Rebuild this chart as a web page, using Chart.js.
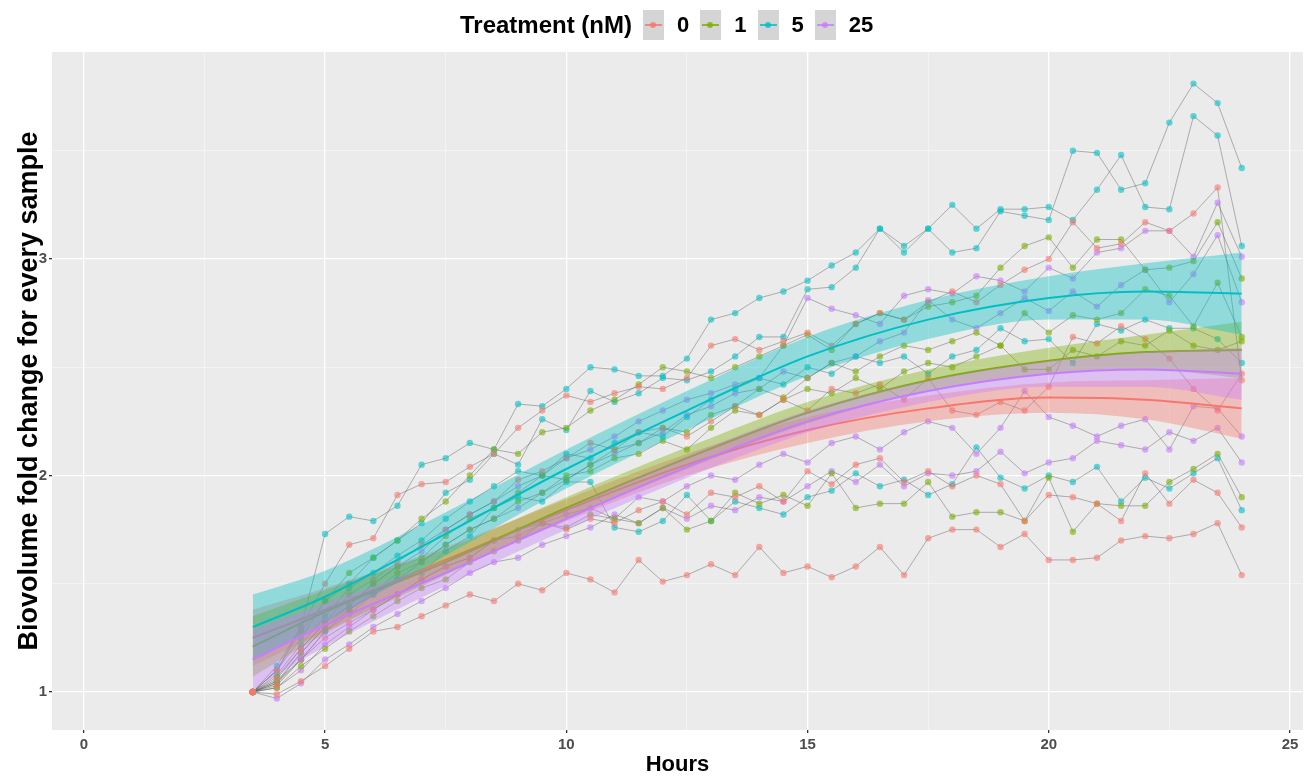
<!DOCTYPE html>
<html>
<head>
<meta charset="utf-8">
<script src="https://cdn.jsdelivr.net/npm/chart.js@4.4.1/dist/chart.umd.min.js"></script>
<style>
    html, body { margin: 0; padding: 0; background: #fff; }
    #wrap { position: relative; width: 1307px; height: 777px; }
    #legend {
        position: absolute; left: 460px; top: 10px;
        display: flex; align-items: center;
        font-family: "Liberation Sans", Arial, sans-serif; font-weight: bold; color: #000;
    }
    #legend .title { font-size: 24px; margin-right: 11px; }
    #legend .key { width: 21px; height: 30px; background: #d5d5d5; position: relative; margin-right: 13px; }
    #legend .key i { position: absolute; left: 2px; right: 2px; top: 14px; height: 2px; }
    #legend .key b { position: absolute; left: 7px; top: 12px; width: 6px; height: 6px; border-radius: 50%; }
    #legend .lab { font-size: 22px; margin-right: 11px; }
</style>
</head>
<body>
<div id="wrap">
    <canvas id="chart" width="1307" height="777"></canvas>
    <div id="legend"></div>
</div>
<script>
// Sampling times (hours)
const hours = [3.5, 4, 4.5, 5, 5.5, 6, 6.5, 7, 7.5, 8, 8.5, 9, 9.5, 10, 10.5, 11, 11.5, 12, 12.5, 13, 13.5,
    14, 14.5, 15, 15.5, 16, 16.5, 17, 17.5, 18, 18.5, 19, 19.5, 20, 20.5, 21, 21.5, 22, 22.5, 23, 23.5, 24];

const treatments = ['0', '1', '5', '25'];
const treatmentColors = ['#F8766D', '#7CAE00', '#00BFC4', '#C77CFF'];

// Biovolume fold change per sample
const dose0_a = [1.00, 0.99, 1.05, 1.12, 1.20, 1.28, 1.30, 1.35, 1.40, 1.45, 1.42, 1.50, 1.47, 1.55, 1.52, 1.46, 1.61, 1.51, 1.54, 1.59, 1.54, 1.67, 1.55, 1.58, 1.53, 1.58, 1.67, 1.54, 1.71, 1.75, 1.75, 1.67, 1.73, 1.61, 1.61, 1.62, 1.70, 1.72, 1.71, 1.73, 1.78, 1.54];
const dose0_b = [1.00, 1.03, 1.15, 1.25, 1.32, 1.38, 1.45, 1.52, 1.58, 1.62, 1.70, 1.72, 1.78, 1.75, 1.80, 1.78, 1.84, 1.88, 1.82, 1.92, 1.90, 1.95, 1.88, 2.02, 1.96, 2.05, 2.08, 1.97, 2.02, 1.95, 2.00, 1.96, 1.79, 1.91, 1.90, 1.87, 1.79, 2.01, 1.87, 1.98, 1.92, 1.76];
const dose0_c = [1.00, 1.10, 1.30, 1.50, 1.68, 1.71, 1.91, 1.96, 1.97, 2.04, 2.10, 2.22, 2.30, 2.37, 2.34, 2.38, 2.41, 2.40, 2.45, 2.60, 2.63, 2.58, 2.62, 2.66, 2.60, 2.70, 2.75, 2.72, 2.80, 2.85, 2.80, 2.88, 2.95, 3.00, 3.17, 3.05, 3.07, 3.17, 3.13, 3.21, 3.33, 2.44];
const dose0_d = [1.00, 1.06, 1.20, 1.32, 1.45, 1.52, 1.60, 1.68, 1.75, 1.82, 1.88, 1.98, 2.02, 2.08, 2.15, 2.12, 2.20, 2.22, 2.18, 2.25, 2.32, 2.28, 2.35, 2.30, 2.40, 2.38, 2.42, 2.35, 2.45, 2.30, 2.28, 2.34, 2.30, 2.41, 2.64, 2.61, 2.69, 2.63, 2.54, 2.40, 2.30, 2.47];

const dose1_a = [1.00, 1.10, 1.28, 1.42, 1.55, 1.62, 1.70, 1.80, 1.88, 2.00, 2.12, 2.10, 2.20, 2.22, 2.30, 2.35, 2.42, 2.50, 2.48, 2.45, 2.50, 2.55, 2.60, 2.65, 2.58, 2.70, 2.75, 2.72, 2.78, 2.80, 2.83, 2.96, 3.06, 3.10, 2.96, 3.09, 3.09, 2.95, 2.96, 2.99, 3.17, 2.91];
const dose1_b = [1.00, 1.07, 1.20, 1.32, 1.40, 1.50, 1.58, 1.62, 1.72, 1.80, 1.85, 1.92, 2.00, 1.98, 2.05, 2.12, 2.15, 2.22, 2.20, 2.28, 2.32, 2.40, 2.36, 2.45, 2.52, 2.48, 2.55, 2.60, 2.58, 2.62, 2.66, 2.60, 2.75, 2.66, 2.74, 2.72, 2.75, 2.86, 2.83, 2.69, 2.89, 2.64];
const dose1_c = [1.00, 1.02, 1.12, 1.20, 1.28, 1.35, 1.42, 1.48, 1.52, 1.60, 1.65, 1.70, 1.78, 1.76, 1.82, 1.80, 1.78, 1.85, 1.75, 1.79, 1.92, 1.87, 1.91, 1.86, 2.01, 1.85, 1.87, 1.87, 1.97, 1.81, 1.83, 1.83, 1.79, 1.99, 1.74, 1.87, 1.86, 1.86, 1.97, 2.03, 2.10, 1.90];
const dose1_d = [1.00, 1.04, 1.18, 1.30, 1.38, 1.46, 1.55, 1.60, 1.68, 1.75, 1.80, 1.88, 1.92, 2.00, 2.02, 2.08, 2.10, 2.16, 2.12, 2.22, 2.30, 2.28, 2.35, 2.40, 2.38, 2.45, 2.40, 2.48, 2.52, 2.50, 2.55, 2.60, 2.49, 2.49, 2.58, 2.55, 2.62, 2.60, 2.67, 2.60, 2.58, 2.62];

const dose5_a = [1.00, 1.12, 1.30, 1.73, 1.81, 1.79, 1.86, 2.05, 2.08, 2.15, 2.12, 2.33, 2.32, 2.40, 2.50, 2.49, 2.46, 2.46, 2.54, 2.72, 2.75, 2.82, 2.85, 2.90, 2.97, 3.03, 3.14, 3.06, 3.14, 3.25, 3.14, 3.23, 3.23, 3.24, 3.18, 3.32, 3.48, 3.24, 3.23, 3.66, 3.57, 3.06];
const dose5_b = [1.00, 1.10, 1.25, 1.42, 1.50, 1.62, 1.70, 1.78, 1.92, 1.98, 2.10, 2.05, 2.26, 2.21, 2.39, 2.34, 2.38, 2.45, 2.44, 2.48, 2.55, 2.64, 2.64, 2.86, 2.87, 2.96, 3.14, 3.03, 3.14, 3.03, 3.05, 3.22, 3.20, 3.18, 3.50, 3.49, 3.32, 3.35, 3.63, 3.81, 3.72, 3.42];
const dose5_c = [1.00, 1.08, 1.22, 1.35, 1.48, 1.55, 1.63, 1.70, 1.80, 1.88, 1.95, 2.02, 2.00, 2.10, 2.08, 2.15, 2.20, 2.18, 2.27, 2.35, 2.40, 2.45, 2.42, 2.50, 2.47, 2.55, 2.52, 2.55, 2.47, 2.55, 2.58, 2.68, 2.62, 2.63, 2.52, 2.70, 2.67, 2.72, 2.68, 2.68, 2.63, 2.52];
const dose5_d = [1.00, 1.05, 1.15, 1.28, 1.38, 1.45, 1.52, 1.55, 1.65, 1.72, 1.85, 1.90, 1.88, 1.97, 1.97, 1.76, 1.74, 1.79, 1.91, 1.79, 1.88, 1.85, 1.82, 1.90, 1.93, 2.01, 1.95, 1.98, 1.91, 1.96, 2.13, 1.99, 1.94, 2.00, 1.97, 2.04, 1.88, 1.99, 1.94, 2.01, 2.08, 1.84];

const dose25_a = [1.00, 1.05, 1.18, 1.30, 1.40, 1.50, 1.58, 1.65, 1.75, 1.82, 1.88, 1.95, 2.00, 2.08, 2.12, 2.18, 2.25, 2.30, 2.35, 2.38, 2.42, 2.45, 2.60, 2.82, 2.77, 2.74, 2.70, 2.83, 2.86, 2.84, 2.92, 2.90, 2.85, 2.96, 2.91, 3.03, 3.05, 3.13, 3.13, 3.01, 3.26, 3.01];
const dose25_b = [1.00, 1.04, 1.15, 1.28, 1.36, 1.45, 1.52, 1.60, 1.68, 1.75, 1.80, 1.85, 1.92, 1.98, 2.05, 2.10, 2.15, 2.20, 2.28, 2.32, 2.38, 2.40, 2.48, 2.45, 2.52, 2.55, 2.62, 2.66, 2.81, 2.72, 2.68, 2.75, 2.82, 2.76, 2.85, 2.78, 2.88, 2.95, 2.80, 2.93, 3.11, 2.80];
const dose25_c = [1.00, 1.02, 1.10, 1.22, 1.30, 1.38, 1.45, 1.52, 1.58, 1.62, 1.70, 1.75, 1.78, 1.82, 1.85, 1.80, 1.90, 1.88, 1.95, 2.00, 1.98, 2.05, 2.10, 2.06, 2.15, 2.18, 2.12, 2.20, 2.25, 2.22, 2.10, 2.22, 2.39, 2.27, 2.23, 2.18, 2.23, 2.26, 2.12, 2.32, 2.31, 2.18];
const dose25_d = [1.00, 0.97, 1.04, 1.15, 1.22, 1.30, 1.36, 1.42, 1.48, 1.55, 1.60, 1.62, 1.68, 1.72, 1.76, 1.82, 1.78, 1.85, 1.80, 1.86, 1.84, 1.90, 1.88, 1.95, 2.02, 1.97, 2.05, 1.95, 2.01, 2.00, 2.02, 2.11, 2.01, 2.06, 2.08, 2.16, 2.14, 2.12, 2.20, 2.16, 2.22, 2.06];

// Smoothed fit per treatment, with confidence band
const fitHours = [3.5, 5, 7.5, 10, 12.5, 15, 17.5, 20, 22, 24];
const fit0    = [1.25, 1.38, 1.61, 1.84, 2.05, 2.21, 2.31, 2.36, 2.35, 2.31];
const fit0Lo  = [1.12, 1.28, 1.55, 1.79, 2.00, 2.15, 2.25, 2.29, 2.26, 2.17];
const fit0Hi  = [1.38, 1.48, 1.67, 1.89, 2.10, 2.27, 2.37, 2.43, 2.44, 2.45];
const fit1    = [1.21, 1.37, 1.60, 1.85, 2.08, 2.29, 2.44, 2.53, 2.57, 2.58];
const fit1Lo  = [1.07, 1.27, 1.54, 1.80, 2.03, 2.24, 2.39, 2.47, 2.49, 2.45];
const fit1Hi  = [1.35, 1.47, 1.66, 1.90, 2.13, 2.34, 2.49, 2.59, 2.65, 2.71];
const fit5    = [1.30, 1.44, 1.73, 2.03, 2.30, 2.55, 2.72, 2.82, 2.85, 2.84];
const fit5Lo  = [1.15, 1.32, 1.63, 1.94, 2.21, 2.46, 2.63, 2.72, 2.72, 2.65];
const fit5Hi  = [1.45, 1.56, 1.83, 2.12, 2.39, 2.64, 2.81, 2.92, 2.98, 3.03];
const fit25   = [1.15, 1.31, 1.55, 1.80, 2.04, 2.25, 2.39, 2.47, 2.49, 2.47];
const fit25Lo = [1.01, 1.21, 1.49, 1.75, 1.99, 2.20, 2.34, 2.41, 2.41, 2.35];
const fit25Hi = [1.29, 1.41, 1.61, 1.85, 2.09, 2.30, 2.44, 2.53, 2.57, 2.59];

// Axis ticks (major + minor grid)
const xTicks = [0, 2.5, 5, 7.5, 10, 12.5, 15, 17.5, 20, 22.5, 25];
const yTicks = [1, 1.5, 2, 2.5, 3, 3.5];

const sampleSets = [
    [dose0_a, 0], [dose0_b, 0], [dose0_c, 0], [dose0_d, 0],
    [dose1_a, 1], [dose1_b, 1], [dose1_c, 1], [dose1_d, 1],
    [dose5_a, 2], [dose5_b, 2], [dose5_c, 2], [dose5_d, 2],
    [dose25_a, 3], [dose25_b, 3], [dose25_c, 3], [dose25_d, 3]
];
const fitSets = [
    [fit0, fit0Lo, fit0Hi], [fit1, fit1Lo, fit1Hi],
    [fit5, fit5Lo, fit5Hi], [fit25, fit25Lo, fit25Hi]
];

function rgba(hex, a) {
    const n = parseInt(hex.slice(1), 16);
    return `rgba(${(n >> 16) & 255}, ${(n >> 8) & 255}, ${n & 255}, ${a})`;
}

function toXY(xs, ys) {
    return ys.map((y, i) => ({ x: xs[i], y: y }));
}

function buildDatasets() {
    const datasets = [];

    // gray connecting lines
    sampleSets.forEach(([values]) => {
        datasets.push({
            data: toXY(hours, values),
            borderColor: 'rgba(90, 90, 90, 0.45)',
            borderWidth: 1,
            pointRadius: 0,
            fill: false,
            order: 200
        });
    });

    // coloured points
    sampleSets.forEach(([values, t]) => {
        datasets.push({
            data: toXY(hours, values),
            showLine: false,
            pointRadius: 3.2,
            pointBorderWidth: 0,
            pointBackgroundColor: rgba(treatmentColors[t], 0.6),
            order: 150
        });
    });

    // ribbons + fit lines, drawn group by group
    fitSets.forEach(([mid, lo, hi], t) => {
        const color = treatmentColors[t];
        const base = 20 - t * 4;
        datasets.push({
            data: toXY(fitHours, hi),
            borderWidth: 0,
            pointRadius: 0,
            cubicInterpolationMode: 'monotone',
            fill: false,
            order: base
        });
        datasets.push({
            data: toXY(fitHours, lo),
            borderWidth: 0,
            pointRadius: 0,
            cubicInterpolationMode: 'monotone',
            backgroundColor: rgba(color, 0.38),
            fill: '-1',
            order: base
        });
        datasets.push({
            data: toXY(fitHours, mid),
            borderColor: color,
            borderWidth: 2,
            pointRadius: 0,
            cubicInterpolationMode: 'monotone',
            fill: false,
            order: base - 1
        });
    });

    return datasets;
}

const panelBackground = {
    id: 'panelBackground',
    beforeDraw(chart) {
        const { ctx, chartArea } = chart;
        ctx.save();
        ctx.fillStyle = '#EBEBEB';
        ctx.fillRect(chartArea.left, chartArea.top, chartArea.right - chartArea.left, chartArea.bottom - chartArea.top);
        ctx.restore();
    }
};

function buildLegend() {
    const legend = document.getElementById('legend');
    let html = '<span class="title">Treatment (nM)</span>';
    treatments.forEach((label, i) => {
        html += `<span class="key"><i style="background:${rgba(treatmentColors[i], 0.8)}"></i>` +
            `<b style="background:${rgba(treatmentColors[i], 0.8)}"></b></span>` +
            `<span class="lab">${label}</span>`;
    });
    legend.innerHTML = html;
}

Chart.defaults.font.family = '"Liberation Sans", Arial, sans-serif';

buildLegend();

new Chart(document.getElementById('chart').getContext('2d'), {
    type: 'line',
    data: { datasets: buildDatasets() },
    plugins: [panelBackground],
    options: {
        responsive: false,
        animation: false,
        devicePixelRatio: 1,
        layout: { padding: { top: 52, left: 0, right: 0, bottom: 0 } },
        plugins: { legend: { display: false }, tooltip: { enabled: false } },
        scales: {
            x: {
                type: 'linear',
                min: -0.661,
                max: 25.27,
                afterBuildTicks: scale => { scale.ticks = xTicks.map(v => ({ value: v })); },
                afterFit: scale => { scale.height = 47; },
                border: { display: false },
                grid: {
                    color: c => c.tick.value % 5 === 0 ? '#ffffff' : 'rgba(255,255,255,0.7)',
                    lineWidth: c => c.tick.value % 5 === 0 ? 1.3 : 0.6,
                    tickLength: 3,
                    tickColor: c => c.tick.value % 5 === 0 ? '#333333' : 'rgba(0,0,0,0)'
                },
                ticks: {
                    autoSkip: false,
                    maxRotation: 0,
                    padding: 3,
                    color: '#4D4D4D',
                    font: { size: 15, weight: 'bold' },
                    callback: v => v % 5 === 0 ? v : ''
                },
                title: {
                    display: true,
                    text: 'Hours',
                    color: '#000',
                    font: { size: 22, weight: 'bold', lineHeight: 1 },
                    padding: { top: 0, bottom: 1 }
                }
            },
            y: {
                type: 'linear',
                min: 0.8245,
                max: 3.956,
                afterBuildTicks: scale => { scale.ticks = yTicks.map(v => ({ value: v })); },
                afterFit: scale => { scale.width = 52; },
                border: { display: false },
                grid: {
                    color: c => c.tick.value % 1 === 0 ? '#ffffff' : 'rgba(255,255,255,0.7)',
                    lineWidth: c => c.tick.value % 1 === 0 ? 1.3 : 0.6,
                    tickLength: 3,
                    tickColor: c => c.tick.value % 1 === 0 ? '#333333' : 'rgba(0,0,0,0)'
                },
                ticks: {
                    autoSkip: false,
                    padding: 2,
                    color: '#4D4D4D',
                    font: { size: 15, weight: 'bold' },
                    callback: v => v % 1 === 0 ? v : ''
                },
                title: {
                    display: true,
                    text: 'Biovolume fold change for every sample',
                    color: '#000',
                    font: { size: 27, weight: 'bold', lineHeight: 1 },
                    padding: { top: 16, bottom: 0 }
                }
            }
        }
    }
});
</script>
</body>
</html>
